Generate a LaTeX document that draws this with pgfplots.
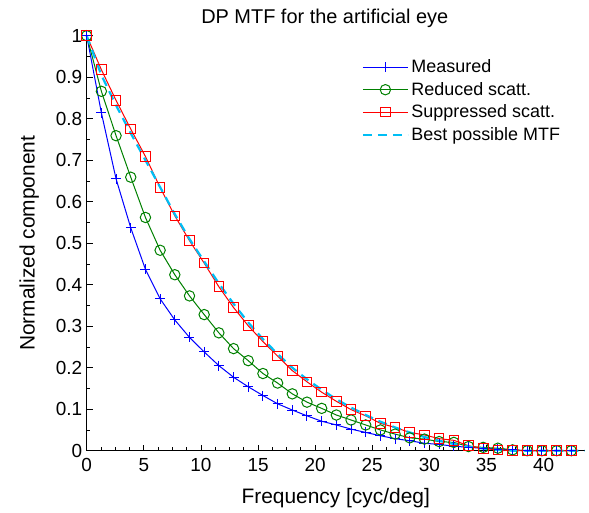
\documentclass[border=0pt]{standalone}
\usepackage{fontspec}
\setmainfont{Liberation Sans}
\usepackage{pgfplots}
\usepackage{pgfplotstable}
\pgfplotsset{compat=1.18}

\definecolor{mblue}{RGB}{0,0,255}
\definecolor{mgreen}{RGB}{0,128,0}
\definecolor{mred}{RGB}{255,0,0}
\definecolor{mcyan}{RGB}{0,190,245}

% x = sample frequency, one sample every 9/7 cyc/deg
\pgfplotstableread{
x        meas   reduced supp
0        1.000  1.000   1.000
1.2857   0.814  0.866   0.918
2.5714   0.655  0.759   0.844
3.8571   0.537  0.659   0.775
5.1429   0.437  0.562   0.709
6.4286   0.366  0.483   0.634
7.7143   0.315  0.424   0.566
9.0000   0.273  0.373   0.506
10.2857  0.238  0.328   0.452
11.5714  0.205  0.284   0.395
12.8571  0.177  0.246   0.345
14.1429  0.154  0.217   0.301
15.4286  0.133  0.186   0.263
16.7143  0.113  0.163   0.228
18.0000  0.098  0.137   0.193
19.2857  0.084  0.117   0.166
20.5714  0.071  0.102   0.141
21.8571  0.062  0.086   0.119
23.1429  0.052  0.074   0.099
24.4286  0.044  0.062   0.084
25.7143  0.036  0.050   0.066
27.0000  0.029  0.040   0.056
28.2857  0.024  0.031   0.044
29.5714  0.018  0.028   0.038
30.8571  0.015  0.022   0.029
32.1429  0.011  0.020   0.025
33.4286  0.008  0.010   0.012
34.7143  0.006  0.008   0.005
36.0000  0.004  0.006   0.002
37.2857  0.002  0.002   0.000
38.5714  0.000  0.000   0.000
39.8571  0.000  0.000   0.000
41.1429  0.000  0.000   0.000
42.4286  0.000  0.000   0.000
}\mtf

\pgfplotstableread{
x        best
0        1.000
1.2857   0.905
2.5714   0.832
3.8571   0.765
5.1429   0.700
6.4286   0.635
7.7143   0.570
9.0000   0.510
10.2857  0.456
11.5714  0.403
12.8571  0.354
14.1429  0.309
15.4286  0.269
16.7143  0.233
18.0000  0.200
19.2857  0.172
20.5714  0.147
21.8571  0.124
23.1429  0.104
24.4286  0.086
25.7143  0.070
27.0000  0.056
28.2857  0.044
29.5714  0.033
30.8571  0.024
32.1429  0.016
33.4286  0.010
34.7143  0.005
36.0000  0.002
37.2857  0.000
43.6000  0.000
}\mtfbest

\begin{document}
\begin{tikzpicture}
\begin{axis}[
  at={(0,0)}, anchor=south west,
  scale only axis, width=498bp, height=415bp,
  xmin=0, xmax=43.6, ymin=0, ymax=1,
  axis lines=left, axis line style={-, line width=0.8bp},
  clip=false,
  tick align=inside,
  xtick={0,5,10,15,20,25,30,35,40},
  ytick={0,0.1,0.2,0.3,0.4,0.5,0.6,0.7,0.8,0.9,1},
  minor x tick num=3, minor y tick num=1,
  major tick length=6bp, minor tick length=3.5bp,
  tick style={black, line width=0.8bp},
  /pgf/number format/assume math mode=true,
  tick label style={font=\fontsize{19}{22}\selectfont},
  xticklabel style={yshift=-4bp},
  yticklabel style={xshift=-1bp},
  title={DP MTF for the artificial eye},
  title style={font=\fontsize{20}{24}\selectfont, at={(0.478,1)}, anchor=south, yshift=-1bp},
  xlabel={Frequency [cyc/deg]},
  ylabel={Normalized component},
  label style={font=\fontsize{21}{25}\selectfont},
  xlabel shift=10bp,
  ylabel shift=10bp,
  legend style={at={(0.552,0.948)}, anchor=north west, draw=none, fill=none,
    font=\fontsize{18}{21}\selectfont, row sep=3bp, inner sep=0pt,
    nodes={inner sep=2.5bp}},
  legend cell align=left,
  legend image code/.code={\draw[mark repeat=2,mark phase=2]
    plot coordinates {(0bp,0bp) (22.5bp,0bp) (45bp,0bp)};},
]
\addplot[color=mblue, line width=1bp, mark=+, mark size=5bp, mark options={line width=1bp}]
  table[x=x, y=meas] {\mtf};
\addplot[color=mgreen, line width=1bp, mark=o, mark size=5.2bp, mark options={line width=1bp}]
  table[x=x, y=reduced] {\mtf};
\addplot[color=mred, line width=1bp, mark=square, mark size=4.8bp, mark options={line width=1bp}]
  table[x=x, y=supp] {\mtf};
\addplot[color=mcyan, line width=2.2bp, dash pattern=on 9bp off 6bp]
  table[x=x, y=best] {\mtfbest};
\legend{Measured, Reduced scatt., Suppressed scatt., Best possible MTF}
\end{axis}
\pgfresetboundingbox
\path[use as bounding box] (-86.7bp,-62bp) rectangle (502.3bp,450.7bp);
\end{tikzpicture}
\end{document}
